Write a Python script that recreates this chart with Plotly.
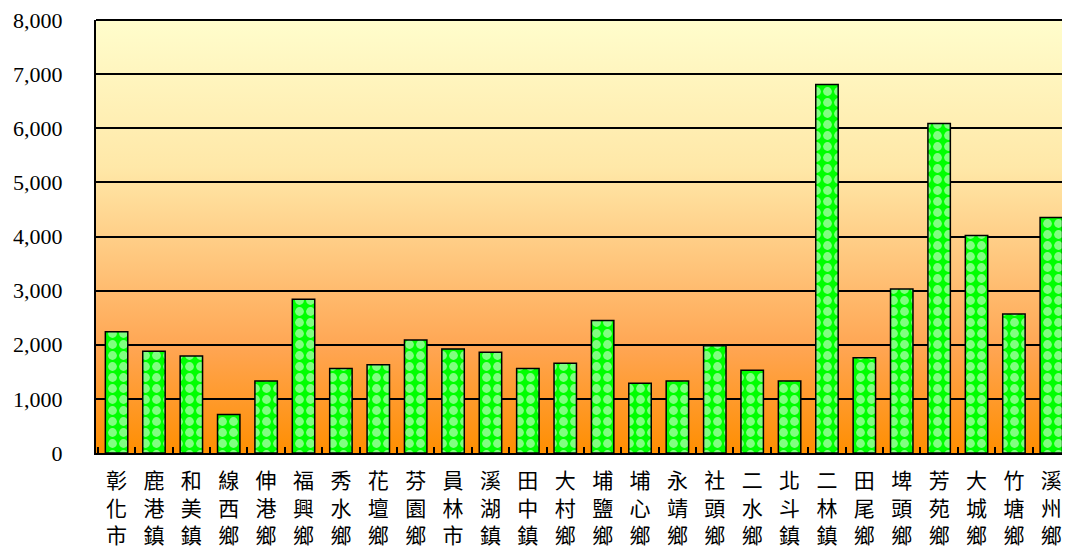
import plotly.graph_objects as go
import base64

categories = ["彰化市", "鹿港鎮", "和美鎮", "線西鄉", "伸港鄉", "福興鄉", "秀水鄉", "花壇鄉",
              "芬園鄉", "員林市", "溪湖鎮", "田中鎮", "大村鄉", "埔鹽鄉", "埔心鄉", "永靖鄉",
              "社頭鄉", "二水鄉", "北斗鎮", "二林鎮", "田尾鄉", "埤頭鄉", "芳苑鄉", "大城鄉",
              "竹塘鄉", "溪州鄉"]
values = [2240, 1880, 1790, 710, 1330, 2840, 1560, 1630,
          2090, 1920, 1860, 1560, 1660, 2450, 1290, 1330,
          1980, 1530, 1330, 6810, 1760, 3030, 6090, 4020,
          2570, 4350]
tick_vals = [0, 1000, 2000, 3000, 4000, 5000, 6000, 7000, 8000]
tick_text = ["0", "1,000", "2,000", "3,000", "4,000", "5,000", "6,000", "7,000", "8,000"]

x_labels = ["<br>".join(list(c)) for c in categories]

svg = ("<svg xmlns='http://www.w3.org/2000/svg' width='100' height='100' preserveAspectRatio='none'>"
       "<defs><linearGradient id='g' x1='0' y1='0' x2='0' y2='1'>"
       "<stop offset='0' stop-color='#FFFDCC'/>"
       "<stop offset='0.34' stop-color='#FFE8A8'/>"
       "<stop offset='0.57' stop-color='#FFC47A'/>"
       "<stop offset='0.76' stop-color='#FFA552'/>"
       "<stop offset='0.96' stop-color='#FF920F'/>"
       "<stop offset='1' stop-color='#FF8F00'/>"
       "</linearGradient></defs>"
       "<rect width='100' height='100' fill='url(#g)'/></svg>")
src = "data:image/svg+xml;base64," + base64.b64encode(svg.encode()).decode()

fig = go.Figure()
fig.add_trace(go.Bar(
    x=categories,
    y=values,
    marker=dict(
        color="#00FF00",
        line=dict(color="black", width=1.5),
        pattern=dict(shape=".", fgcolor="white", bgcolor="#00FF00", size=11, solidity=0.5),
    ),
    width=0.6,
))

fig.update_layout(
    width=1062, height=546,
    margin=dict(l=88, r=0, t=10, b=101),
    paper_bgcolor="white",
    plot_bgcolor="rgba(0,0,0,0)",
    showlegend=False,
    images=[dict(source=src, xref="paper", yref="paper", x=0, y=1, sizex=1, sizey=1,
                 sizing="stretch", layer="below")],
    xaxis=dict(
        tickmode="array", tickvals=categories, ticktext=x_labels,
        tickfont=dict(family="Noto Sans CJK TC", size=21, color="black"),
        showline=True, linecolor="black", linewidth=2,
        ticks="inside", tickson="boundaries", ticklen=6, tickcolor="black", tickwidth=2,
        showgrid=False, fixedrange=True, ticklabelstandoff=8,
        range=[-0.55, len(categories) - 0.5],
    ),
    yaxis=dict(
        range=[0, 8000], tickmode="array", tickvals=tick_vals, ticktext=tick_text,
        tickfont=dict(family="Liberation Serif", size=22, color="black"),
        showline=True, linecolor="black", linewidth=2,
        showgrid=True, gridcolor="black", gridwidth=1.5,
        zeroline=False, ticks="", ticklabelstandoff=27,
        ticklabeloverflow="allow",
    ),
    shapes=[dict(type="line", xref="paper", yref="paper", x0=0, x1=1, y0=1, y1=1,
                 line=dict(color="black", width=2))],
)

fig.write_html("out.html")
